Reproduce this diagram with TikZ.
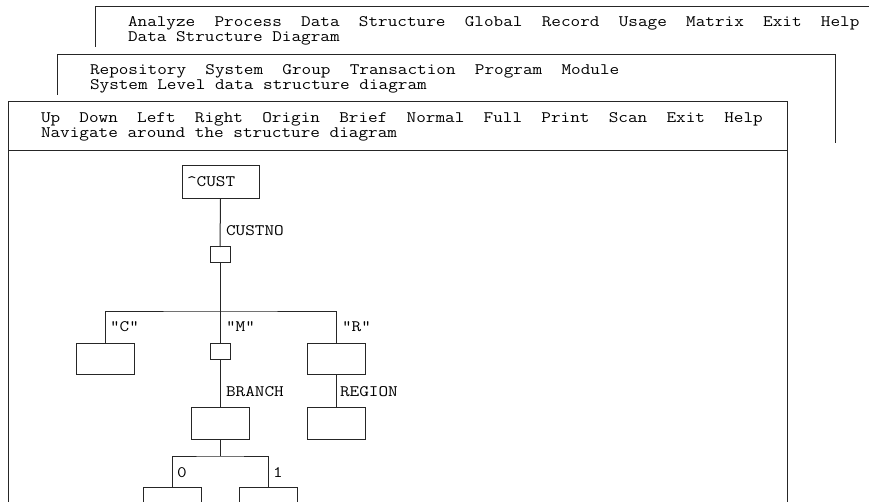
\documentclass[tikz,border=0pt]{standalone}
\usepackage{fontspec}
\usepackage{graphicx}
\newcommand{\crt}[1]{\scalebox{1.168}[1]{\ttfamily\fontsize{16}{18}\selectfont #1}}
\tikzset{
  frame/.style={draw=black!85, line width=1pt},
  rec/.style={draw=black!85, line width=1pt, rectangle, inner sep=0pt, outer sep=0pt},
  bigrec/.style={rec, minimum width=58pt, minimum height=32pt},
  keyrec/.style={rec, minimum width=20pt, minimum height=16pt},
  conn/.style={draw=black!85, line width=1pt},
  txt/.style={anchor=base west, inner sep=0pt, outer sep=0pt, text=black}
}
\begin{document}
\begin{tikzpicture}[x=1pt, y=-1pt]
\useasboundingbox (0,0) rectangle (869,502);
\clip (0,0) rectangle (869,502);
% window 1 (back)
\draw[frame] (95,47) -- (95,7) -- (869,7);
\node[txt] (m1a) at (128,27) {\crt{Analyze~~Process~~Data~~Structure~~Global~~Record~~Usage~~Matrix~~Exit~~Help}};
\node[txt] (m1b) at (128,42) {\crt{Data~Structure~Diagram}};
% window 2
\draw[frame] (57,95) -- (57,55) -- (835,55) -- (835,143);
\node[txt] (m2a) at (90,75) {\crt{Repository~~System~~Group~~Transaction~~Program~~Module}};
\node[txt] (m2b) at (90,90) {\crt{System~Level~data~structure~diagram}};
% window 3 (front)
\draw[frame] (8,510) -- (8,102) -- (787,102) -- (787,510);
\draw[frame] (8,151) -- (787,151);
\node[txt] (m3a) at (41,123) {\crt{Up~~Down~~Left~~Right~~Origin~~Brief~~Normal~~Full~~Print~~Scan~~Exit~~Help}};
\node[txt] (m3b) at (41,138) {\crt{Navigate~around~the~structure~diagram}};
% structure diagram
\node[rec, minimum width=77pt, minimum height=33pt] (cust) at (220.5,182.5) {};
\node[keyrec] (k1) at (220,255) {};
\node[bigrec, minimum height=31pt] (cbox) at (105,358.5) {};
\node[keyrec] (mk) at (220,351) {};
\node[bigrec, minimum height=31pt] (rbox) at (336,358.5) {};
\node[bigrec] (brbox) at (220,423) {};
\node[bigrec] (rgbox) at (336,423) {};
\node[bigrec] (b0) at (172,503) {};
\node[bigrec] (b1) at (268,503) {};
\coordinate (bar1) at (220,311);
\coordinate (bar2) at (220,456);
\draw[conn] (cust.south) -- (k1.north);
\draw[conn] (k1.south) -- (mk.north);
\draw[conn] (cbox.north) |- (bar1) -| (rbox.north);
\draw[conn] (mk.south) -- (brbox.north);
\draw[conn] (rbox.south) -- (rgbox.north);
\draw[conn] (brbox.south) -- (bar2);
\draw[conn] (b0.north) |- (bar2) -| (b1.north);
% labels
\node[txt] (lcust) at (187,187) {\crt{\textasciicircum CUST}};
\node[txt] (lcustno) at (226,236) {\crt{CUSTNO}};
\node[txt] (lc) at (110,331) {\crt{"C"}};
\node[txt] (lm) at (226,331) {\crt{"M"}};
\node[txt] (lr) at (342,331) {\crt{"R"}};
\node[txt] (lbranch) at (226,396) {\crt{BRANCH}};
\node[txt] (lregion) at (340,396) {\crt{REGION}};
\node[txt] (l0) at (177,477) {\crt{0}};
\node[txt] (l1) at (273,477) {\crt{1}};
\end{tikzpicture}
\end{document}
